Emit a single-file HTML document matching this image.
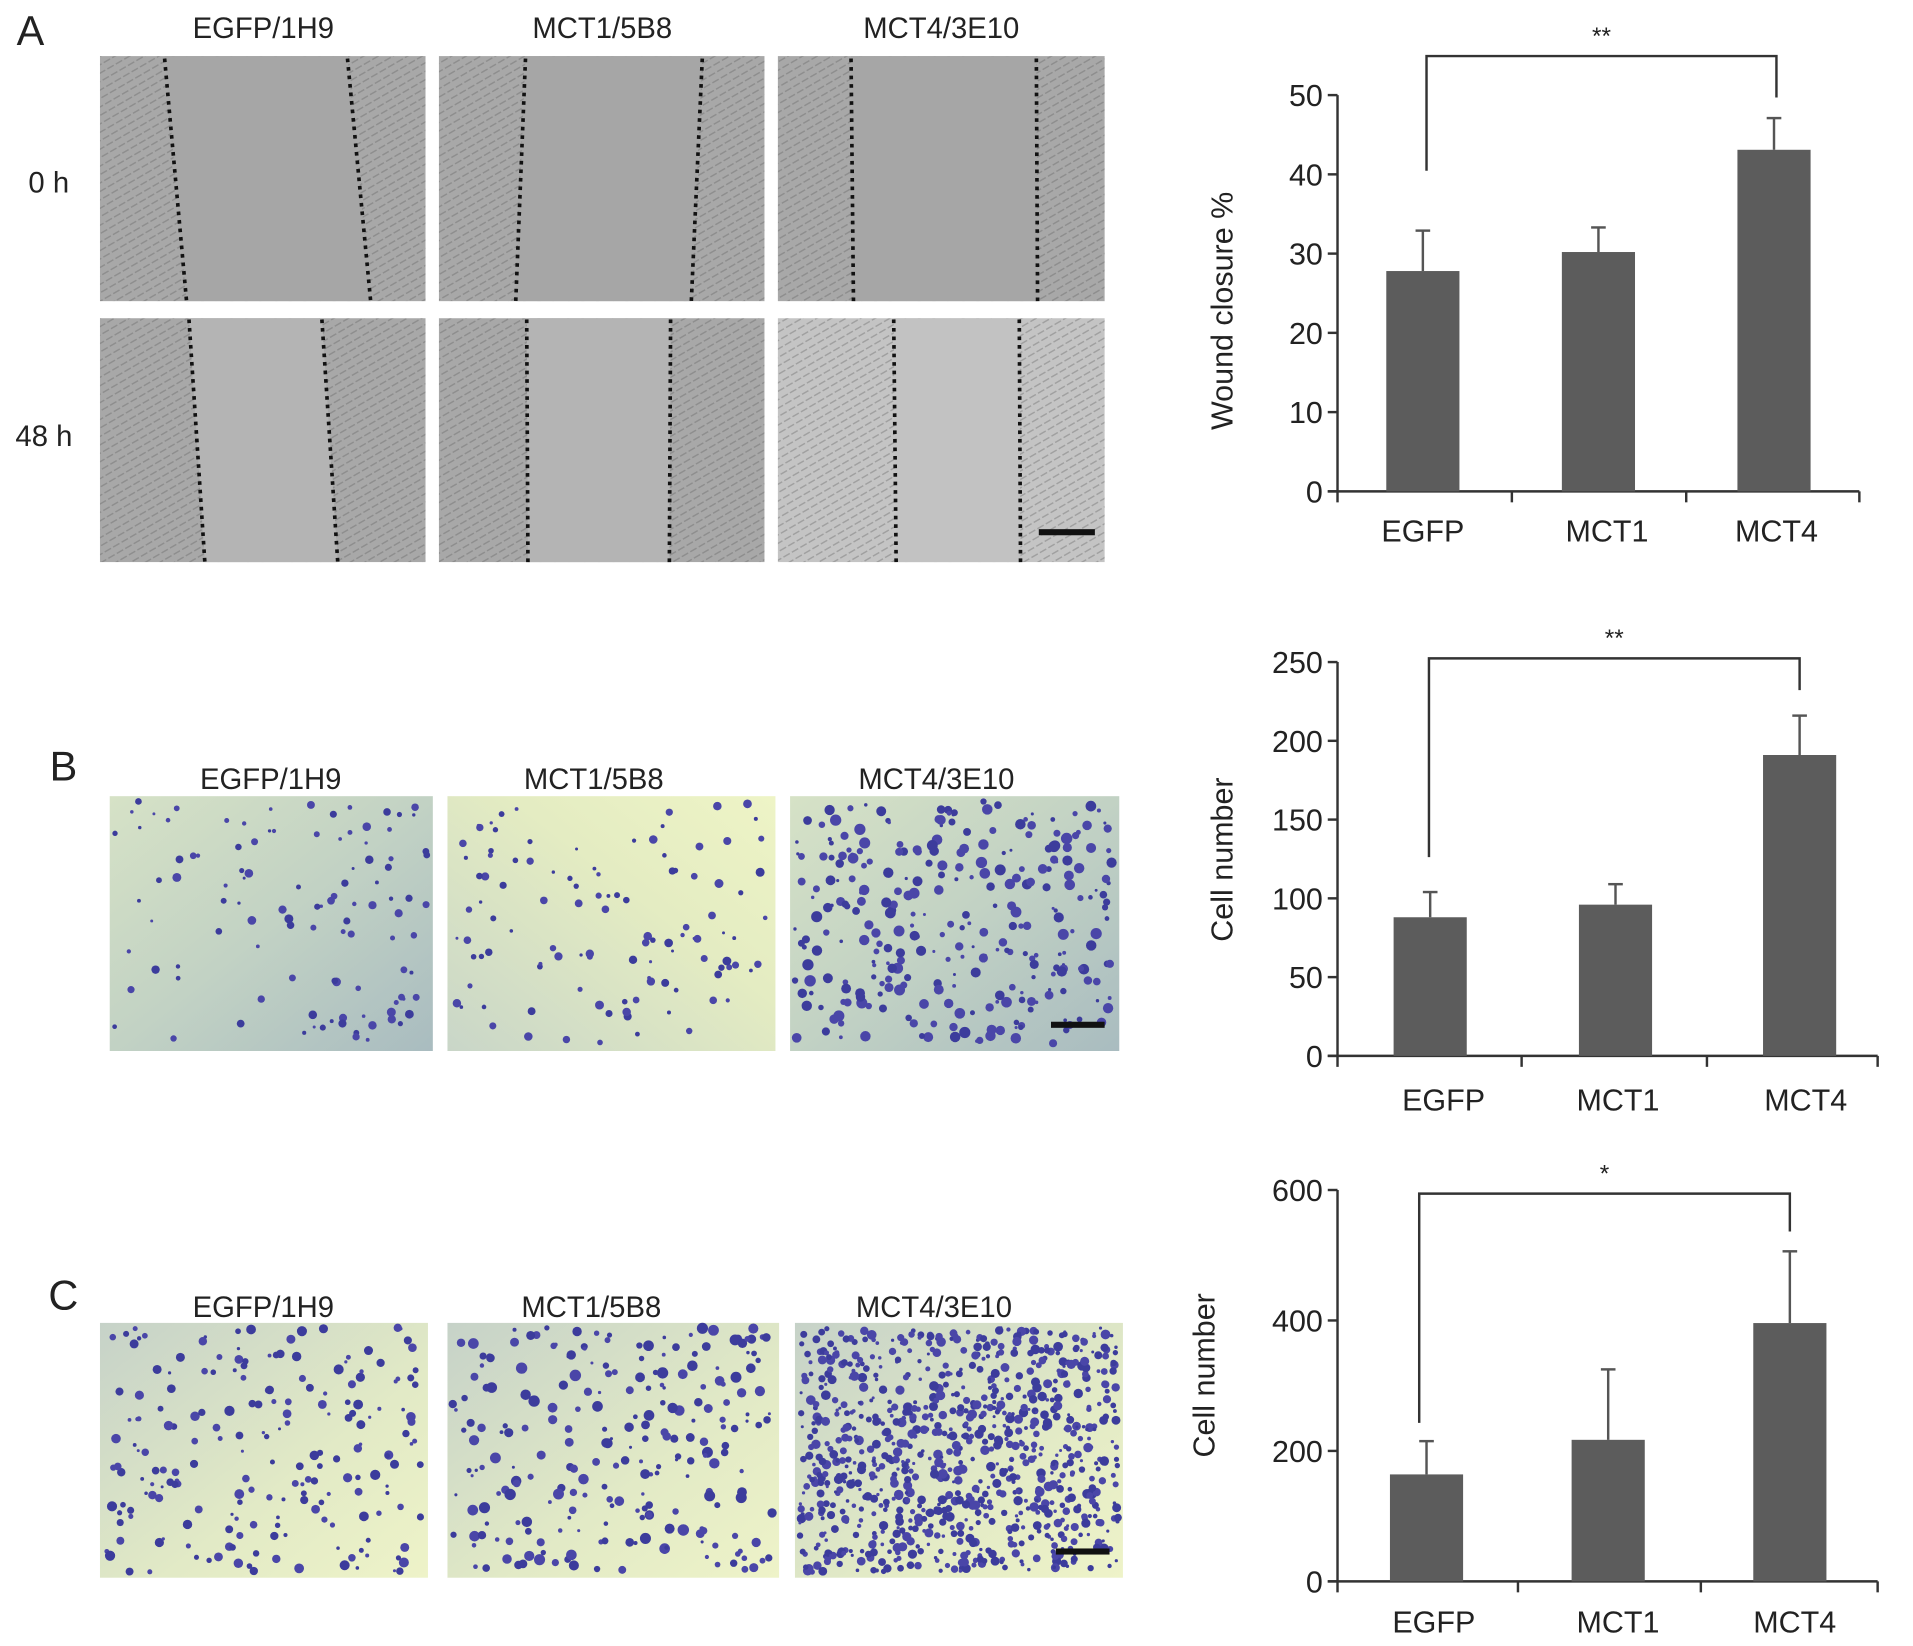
<!DOCTYPE html>
<html><head><meta charset="utf-8">
<style>
html,body{margin:0;padding:0;background:#fff;}
svg{display:block;font-family:"Liberation Sans",Arial,sans-serif;}
</style></head>
<body>
<svg id="fig" width="1913" height="1646" viewBox="0 0 1569 1350" preserveAspectRatio="none" xmlns="http://www.w3.org/2000/svg">
<defs>
<linearGradient id="gB" x1="0" y1="0" x2="1" y2="1">
<stop offset="0" stop-color="#d6e2c6"/><stop offset="0.5" stop-color="#c2d2c4"/><stop offset="1" stop-color="#a9bcc0"/></linearGradient>
<linearGradient id="gB2" x1="0" y1="1" x2="1" y2="0">
<stop offset="0" stop-color="#c9d6c8"/><stop offset="0.6" stop-color="#e4ecc2"/><stop offset="1" stop-color="#eef4c6"/></linearGradient>
<linearGradient id="gB3" x1="0" y1="0" x2="1" y2="1">
<stop offset="0" stop-color="#c6d2c8"/><stop offset="0.6" stop-color="#e2eac6"/><stop offset="1" stop-color="#eef3c8"/></linearGradient>
<pattern id="tex" width="8" height="6" patternUnits="userSpaceOnUse" patternTransform="rotate(-30)">
<rect width="8" height="6" fill="#a8a8a8"/><line x1="0" y1="3" x2="6" y2="3" stroke="#8e8e8e" stroke-width="1.2"/></pattern>
<pattern id="tex2" width="8" height="6" patternUnits="userSpaceOnUse" patternTransform="rotate(-30)">
<rect width="8" height="6" fill="#c4c4c4"/><line x1="0" y1="3" x2="6" y2="3" stroke="#a0a0a0" stroke-width="1.2"/></pattern>
</defs>
<g id="photos"></g>
<g id="charts"></g>
</svg>
<script>
// ---- chart data ----
const categories = ["EGFP","MCT1","MCT4"];
const woundValues = [27.8, 30.2, 43.1];
const woundErrors = [32.9, 33.3, 47.1];
const woundTicks = [0,10,20,30,40,50];
const migValues = [88, 96, 191];
const migErrors = [104, 109, 216];
const migTicks = [0,50,100,150,200,250];
const invValues = [164, 217, 396];
const invErrors = [215, 325, 506];
const invTicks = [0,200,400,600];

const NS="http://www.w3.org/2000/svg";
function mk(parent,tag,attrs,text){const e=document.createElementNS(NS,tag);for(const k in attrs)e.setAttribute(k,attrs[k]);if(text!==undefined)e.textContent=text;parent.appendChild(e);return e;}
const photos=document.getElementById('photos');
const charts=document.getElementById('charts');

// ---- photos (decorative) ----
let seed=7;function rnd(){seed=(seed*16807)%2147483647;return seed/2147483647;}
function label(x,y,t,size,name,anchor){const e=mk(photos,'text',{x:x,y:y,'font-size':size,'text-anchor':anchor||'middle',fill:'#222'},t);return e;}
label(25,37,'A',34,'panel-label-a');
label(52,640,'B',34,'panel-label-b');
label(52,1074,'C',34,'panel-label-c');
const heads=['EGFP/1H9','MCT1/5B8','MCT4/3E10'];
[[216,22],[494,22],[772,22]].forEach((p,i)=>label(p[0],p[1]+9,heads[i],24,'header-a-'+(i+1)));
[[222,638],[487,638],[768,638]].forEach((p,i)=>label(p[0],p[1]+9,heads[i],24,'header-b-'+(i+1)));
[[216,1071],[485,1071],[766,1071]].forEach((p,i)=>label(p[0],p[1]+9,heads[i],24,'header-c-'+(i+1)));
label(40,158,'0 h',24,'row-label-0h');
label(36,366,'48 h',24,'row-label-48h');
const colsA=[[82,349],[360,627],[638,906]];
const dotsA=[[[135,48,153,247],[285,48,304,247]],[[431,48,423,247],[576,48,567,247]],[[698,48,700,247],[850,48,851,247]],
 [[155,262,168,461],[264,262,277,461]],[[432,262,433,461],[550,262,549,461]],[[733,262,735,461],[836,262,837,461]]];
[[46,247],[261,461]].forEach((r,ri)=>{colsA.forEach((c,ci)=>{
 const g=mk(photos,'g',{});
 mk(g,'rect',{x:c[0],y:r[0],width:c[1]-c[0],height:r[1]-r[0],fill:(ri&&ci==2)?'url(#tex2)':'url(#tex)'});
 const d=dotsA[ri*3+ci];
 mk(g,'polygon',{points:`${d[0][0]},${r[0]} ${d[1][0]},${r[0]} ${d[1][2]},${r[1]} ${d[0][2]},${r[1]}`,fill:(ri&&ci==2)?'#c2c2c2':(ri?'#b4b4b4':'#a6a6a6')});
 d.forEach(l=>mk(g,'line',{x1:l[0],y1:l[1],x2:l[2],y2:l[3],stroke:'#111','stroke-width':3,'stroke-dasharray':'3 4'}));
});});
mk(photos,'rect',{x:852,y:434,width:46,height:5,fill:'#111'});
function stainPanel(x0,x1,y0,y1,grad,n,name,rmax){
 const g=mk(photos,'g',{});
 mk(g,'rect',{x:x0,y:y0,width:x1-x0,height:y1-y0,fill:grad});
 for(let i=0;i<n;i++){mk(g,'circle',{cx:x0+4+rnd()*(x1-x0-8),cy:y0+4+rnd()*(y1-y0-8),r:1.2+rnd()*rmax,fill:rnd()<0.5?'#3c3c9c':'#4a46a8'});}
}
stainPanel(90,355,653,862,'url(#gB)',110,'migration-image-egfp',2.5);
stainPanel(367,636,653,862,'url(#gB2)',110,'migration-image-mct1',2.5);
stainPanel(648,918,653,862,'url(#gB)',300,'migration-image-mct4',3.5);
mk(photos,'rect',{x:862,y:838,width:44,height:5,fill:'#111'});
stainPanel(82,351,1085,1294,'url(#gB3)',200,'invasion-image-egfp',3);
stainPanel(367,639,1085,1294,'url(#gB3)',240,'invasion-image-mct1',3.5);
stainPanel(652,921,1085,1294,'url(#gB3)',900,'invasion-image-mct4',2.8);
mk(photos,'rect',{x:866,y:1270,width:44,height:5,fill:'#111'});

// ---- bar charts ----
function barChart(o){
 const g=mk(charts,'g',{});
 const max=o.ticks[o.ticks.length-1];
 const y=v=>o.y0-(v/max)*(o.y0-o.yTop);
 const xc=i=>o.xs[i];
 const ax=mk(g,'line',{x1:o.x0,y1:o.yTop,x2:o.x0,y2:o.y0+9,stroke:'#333','stroke-width':2});
 
 const xa=mk(g,'line',{x1:o.x0-8,y1:o.y0,x2:o.xEnd,y2:o.y0,stroke:'#333','stroke-width':2});
 
 o.xticks.forEach(t=>mk(g,'line',{x1:t,y1:o.y0,x2:t,y2:o.y0+9,stroke:'#333','stroke-width':2}));
 o.ticks.forEach(t=>{mk(g,'line',{x1:o.x0-8,y1:y(t),x2:o.x0,y2:y(t),stroke:'#333','stroke-width':2});
  const tl=mk(g,'text',{x:o.x0-12,y:y(t)+9,'font-size':25,'text-anchor':'end',fill:'#222'},String(t));
  });
 categories.forEach((c,i)=>{
  const bw=60;
  const eb=mk(g,'line',{x1:xc(i),y1:y(o.err[i]),x2:xc(i),y2:y(o.vals[i]),stroke:'#555','stroke-width':2});
  
  mk(g,'line',{x1:xc(i)-6,y1:y(o.err[i]),x2:xc(i)+6,y2:y(o.err[i]),stroke:'#555','stroke-width':2});
  const b=mk(g,'rect',{x:xc(i)-bw/2,y:y(o.vals[i]),width:bw,height:o.y0-y(o.vals[i]),fill:'#5c5c5c'});
  
  const l=mk(g,'text',{x:o.lx[i],y:o.ly,'font-size':25,'text-anchor':'middle',fill:'#222'},c);
  
 });
 const br=mk(g,'polyline',{points:`${o.br[0]},${o.br[1]} ${o.br[0]},${o.br[3]} ${o.br[2]},${o.br[3]} ${o.br[2]},${o.br[4]}`,fill:'none',stroke:'#333','stroke-width':2});
 
 const st=mk(g,'text',{x:(o.br[0]+o.br[2])/2,y:o.br[3]-10,'font-size':20,'text-anchor':'middle',fill:'#222'},o.star);
 
 const tt=mk(g,'text',{x:0,y:0,'font-size':25,'text-anchor':'middle',fill:'#222',transform:`translate(${o.tx},${o.ty}) rotate(-90)`},o.title);
 
}
barChart({name:'wound-closure-chart',vals:woundValues,err:woundErrors,ticks:woundTicks,x0:1097,y0:403,yTop:78,xEnd:1525,
 xticks:[1240,1383,1525],xs:[1167,1311,1455],lx:[1167,1318,1457],ly:444,br:[1170,140,1457,46,80],star:'**',title:'Wound closure %',tx:1011,ty:255});
barChart({name:'migration-chart',vals:migValues,err:migErrors,ticks:migTicks,x0:1097,y0:866,yTop:543,xEnd:1540,
 xticks:[1248,1400,1540],xs:[1173,1325,1476],lx:[1184,1327,1481],ly:911,br:[1172,703,1476,540,566],star:'**',title:'Cell number',tx:1011,ty:705});
barChart({name:'invasion-chart',vals:invValues,err:invErrors,ticks:invTicks,x0:1097,y0:1297,yTop:976,xEnd:1540,
 xticks:[1245,1395,1540],xs:[1170,1319,1468],lx:[1176,1327,1472],ly:1339,br:[1164,1167,1468,979,1010],star:'*',title:'Cell number',tx:996,ty:1128});
</script>
</body></html>
